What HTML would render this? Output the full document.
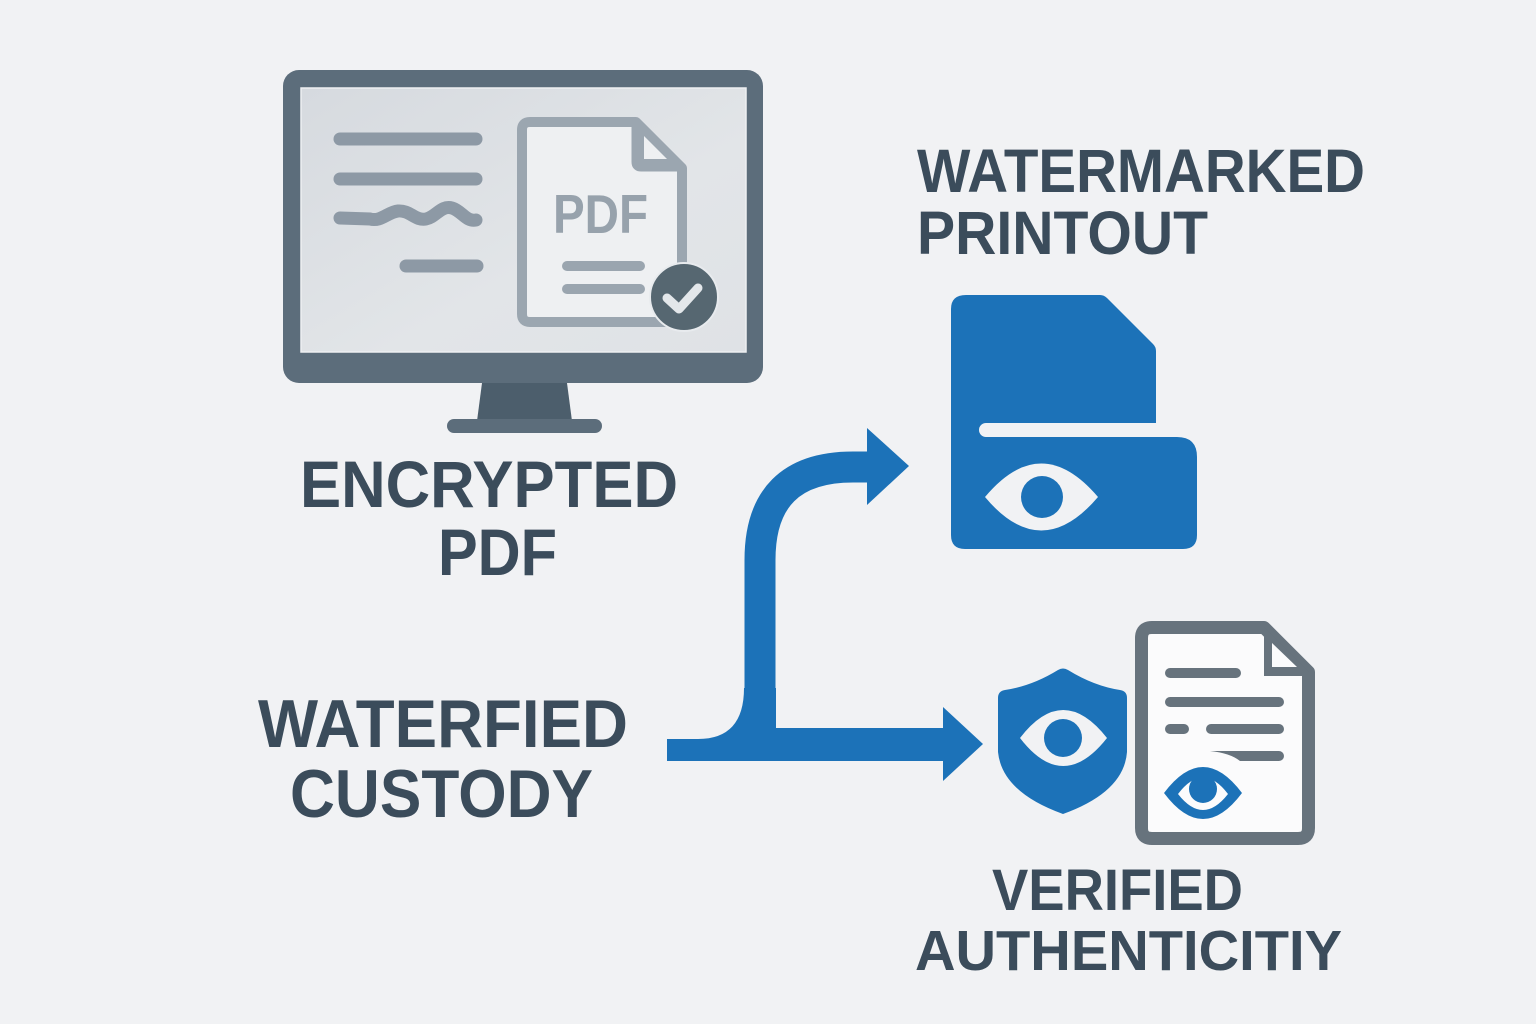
<!DOCTYPE html>
<html><head><meta charset="utf-8"><style>
html,body{margin:0;padding:0;background:#f1f2f4;}
svg{display:block;}
text{font-family:"Liberation Sans",Arial,sans-serif;font-weight:bold;}
</style></head><body>
<svg width="1536" height="1024" viewBox="0 0 1536 1024" xmlns="http://www.w3.org/2000/svg">
<defs>
<linearGradient id="scr" x1="0" y1="0" x2="1" y2="1">
<stop offset="0" stop-color="#d6dadf"/><stop offset="0.6" stop-color="#e2e5e8"/><stop offset="1" stop-color="#dfe2e6"/>
</linearGradient>
</defs>
<rect width="1536" height="1024" fill="#f1f2f4"/>

<!-- Monitor -->
<rect x="283" y="70" width="480" height="313" rx="16" fill="#5c6d7b"/>
<rect x="301" y="88" width="445" height="264" fill="url(#scr)" stroke="#eef0f2" stroke-width="1.5"/>
<polygon points="482,383 567,383 572,421 477,421" fill="#4c5e6c"/>
<rect x="447" y="419" width="155" height="14" rx="7" fill="#5c6d7b"/>
<g stroke="#8d99a5" stroke-width="13" stroke-linecap="round" fill="none">
<line x1="340" y1="139" x2="476" y2="139"/>
<line x1="340" y1="179" x2="476" y2="179"/>
<path d="M340,218 L370,219 C381,222 388,212 398,211 C410,210 415,221 426,219 C436,217 441,205 452,208 C462,211 466,222 476,220"/>
<line x1="406" y1="266" x2="477" y2="266"/>
</g>
<!-- PDF doc in monitor -->
<path d="M530,122 L636,122 L682,168 L682,314 Q682,322 674,322 L530,322 Q522,322 522,314 L522,130 Q522,122 530,122 Z" fill="#eef0f2" stroke="#9ba6b0" stroke-width="10" stroke-linejoin="round"/>
<polygon points="636,122 682,168 682,167 636,167" fill="#9ba6b0"/>
<path d="M636,122 L636,162 Q636,167 641,167 L682,167" fill="none" stroke="#9ba6b0" stroke-width="9"/>
<polygon points="644,136 644,159 667,159" fill="#eef0f2"/>
<text x="553" y="233" font-size="55" fill="#97a2ac" textLength="95" lengthAdjust="spacingAndGlyphs">PDF</text>
<g stroke="#9aa5af" stroke-width="10" stroke-linecap="round">
<line x1="567" y1="266" x2="640" y2="266"/>
<line x1="567" y1="289" x2="640" y2="289"/>
</g>
<circle cx="684" cy="297" r="34" fill="#566771" stroke="#e8ebee" stroke-width="2"/>
<polyline points="667,298 679,309 698,288" fill="none" stroke="#e3e7ea" stroke-width="9" stroke-linecap="round" stroke-linejoin="round"/>

<!-- Labels -->
<g fill="#3b4c5b">
<text x="300" y="507" font-size="66" textLength="378" lengthAdjust="spacingAndGlyphs">ENCRYPTED</text>
<text x="438" y="575" font-size="66" textLength="119" lengthAdjust="spacingAndGlyphs">PDF</text>
<text x="258" y="747" font-size="68" textLength="370" lengthAdjust="spacingAndGlyphs">WATERFIED</text>
<text x="290" y="817" font-size="68" textLength="303" lengthAdjust="spacingAndGlyphs">CUSTODY</text>
<text x="917" y="192" font-size="61" textLength="448" lengthAdjust="spacingAndGlyphs">WATERMARKED</text>
<text x="917" y="254" font-size="61" textLength="291" lengthAdjust="spacingAndGlyphs">PRINTOUT</text>
<text x="992" y="910" font-size="58" textLength="251" lengthAdjust="spacingAndGlyphs">VERIFIED</text>
<text x="915" y="970" font-size="57" textLength="427" lengthAdjust="spacingAndGlyphs">AUTHENTICITIY</text>
</g>

<!-- Blue connectors -->
<g fill="#1c72b8">
<path d="M760,745 L760,560 Q760,467 853,467 L870,467" fill="none" stroke="#1c72b8" stroke-width="31"/>
<polygon points="867,428 909,466 867,505"/>
<path d="M667,739 L698,739 Q744,739 744,688 L776,688 L776,728 L945,728 L945,761 L667,761 Z"/>
<polygon points="943,707 983,744 943,781"/>
</g>

<!-- Blue printout icon -->
<path d="M966,295 L1100,295 Q1104,295 1107,298 L1153,344 Q1156,347 1156,351 L1156,423 L986,423 A7,7 0 0 0 986,437 L1177,437 Q1197,437 1197,457 L1197,535 Q1197,549 1183,549 L965,549 Q951,549 951,535 L951,309 Q951,295 966,295 Z" fill="#1c72b8"/>
<path d="M985,497 Q1041,430 1098,497 Q1041,564 985,497 Z" fill="#f1f2f4"/>
<circle cx="1042" cy="497" r="21" fill="#1c72b8"/>

<!-- Shield -->
<path d="M1058,670 Q1063,667 1068,670 Q1094,686 1120,690 Q1127,691 1127,698 L1127,752 Q1124,792 1063,814 Q1002,792 998,752 L998,698 Q998,691 1005,690 Q1032,686 1058,670 Z" fill="#1c72b8"/>
<path d="M1020,738 Q1063,682 1107,738 Q1063,794 1020,738 Z" fill="#f1f2f4"/>
<circle cx="1063" cy="738" r="19" fill="#1c72b8"/>

<!-- Document with eye -->
<path d="M1152,627.5 L1264,627.5 L1308.5,672 L1308.5,828 Q1308.5,838.5 1298,838.5 L1152,838.5 Q1141.5,838.5 1141.5,828 L1141.5,638 Q1141.5,627.5 1152,627.5 Z" fill="#fbfbfc" stroke="#67737d" stroke-width="13" stroke-linejoin="round"/>
<polygon points="1264,627 1309,672 1309,676 1264,676" fill="#67737d"/>
<polygon points="1272,643 1272,667 1297,667" fill="#fbfbfc"/>
<g stroke="#67737d" stroke-width="10" stroke-linecap="round">
<line x1="1170" y1="673" x2="1236" y2="673"/>
<line x1="1170" y1="702" x2="1279" y2="702"/>
<line x1="1170" y1="729" x2="1184" y2="729"/>
<line x1="1211" y1="729" x2="1279" y2="729"/>
</g>
<path d="M1210,751 L1279,751 A5,5 0 0 1 1279,761 L1240,761 Q1230,753 1210,751 Z" fill="#67737d"/>
<path d="M1164,793 Q1203,741 1242,793 Q1203,845 1164,793 Z" fill="#1c72b8"/>
<path d="M1178,794 Q1203,761 1228,794 Q1203,826 1178,794 Z" fill="#fbfbfc"/>
<circle cx="1203" cy="789" r="14" fill="#1c72b8"/>
</svg>
</body></html>
